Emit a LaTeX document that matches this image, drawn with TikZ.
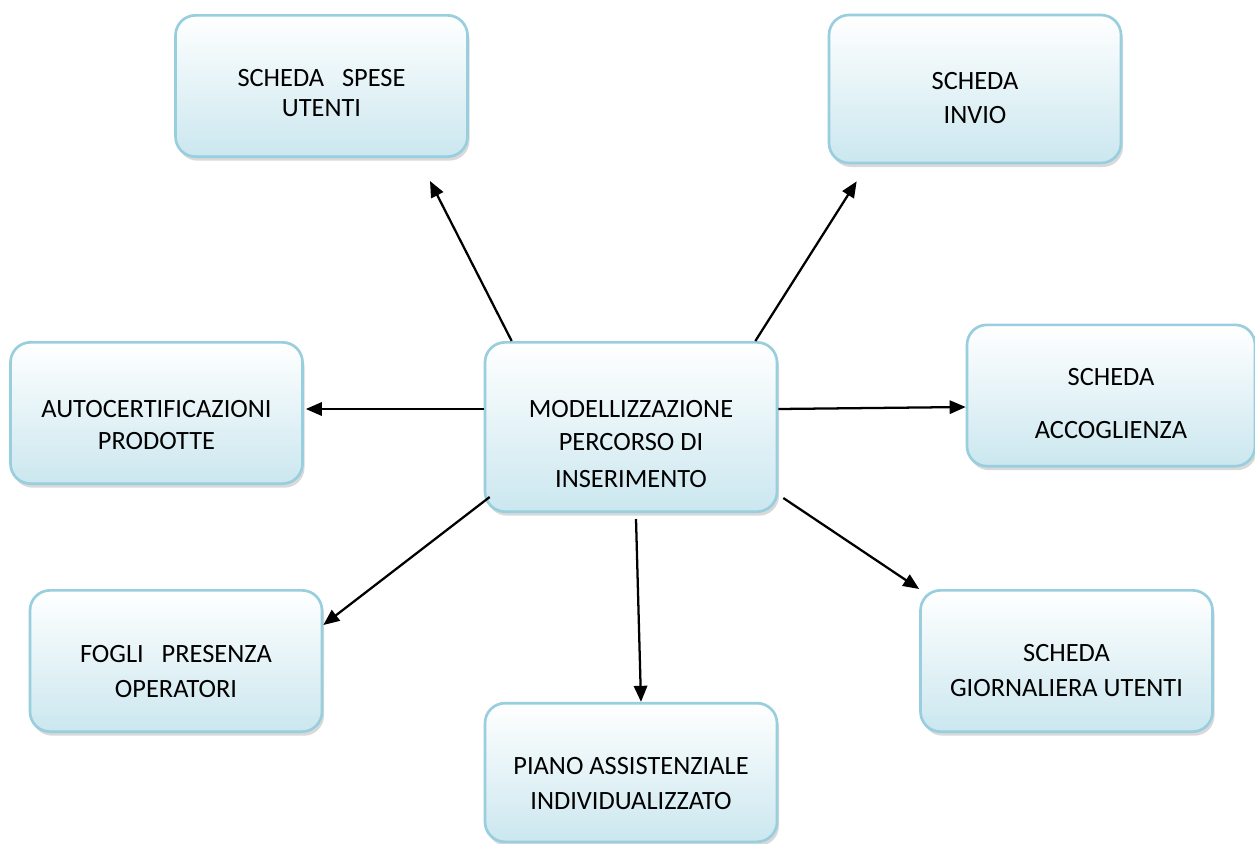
\documentclass[tikz,border=0pt]{standalone}
\usepackage{fontspec}
\setmainfont{Carlito}
\usetikzlibrary{arrows.meta,shadows,calc}

\definecolor{boxline}{RGB}{152,206,222}
\definecolor{boxfill}{RGB}{203,231,239}

% strut on the first line, pushes the text down in its box
\newcommand{\primariga}[1]{\rule{0pt}{#1}}

\tikzset{every picture/.style={line width=0.75pt}}
\tikzset{
  scheda/.style={rectangle, rounded corners=15pt, draw=boxline, line width=2pt,
    top color=white, bottom color=boxfill, align=center,
    minimum width=219pt, minimum height=106pt, inner sep=0pt,
    font=\fontsize{19.8}{26}\selectfont,
    drop shadow={shadow xshift=1.5pt, shadow yshift=-3pt, opacity=0.25, fill=black!60}},
  freccia/.style={line width=1.7pt, -{Triangle[length=12pt,width=10pt]}}
}

\begin{document}
\begin{tikzpicture}[x=0.75pt,y=0.75pt,yscale=-1,xscale=1]
	\useasboundingbox (0,0) rectangle (1255,843);

	% Boxes
	\node [scheda] (spese) at (321.5,86) {\primariga{23.25pt}SCHEDA\ \ \ SPESE\\[-3.5pt]UTENTI};
	\node [scheda, minimum height=111pt] (invio) at (975,89) {\primariga{26.25pt}SCHEDA\\INVIO};
	\node [scheda] (autocert) at (156.5,413) {\primariga{30.75pt}AUTOCERTIFICAZIONI\\[-2pt]PRODOTTE};
	\node [scheda, minimum height=127pt] (modello) at (631,427) {\primariga{38.25pt}MODELLIZZAZIONE\\[-1pt]PERCORSO DI\\[2pt]INSERIMENTO};
	\node [scheda, minimum width=216pt] (accoglienza) at (1111,395.5) {\primariga{24.75pt}SCHEDA\\[14pt]ACCOGLIENZA};
	\node [scheda] (fogli) at (176,661) {\primariga{28.5pt}FOGLI\ \ \ PRESENZA\\OPERATORI};
	\node [scheda, minimum height=104pt] (piano) at (631,772.5) {\primariga{29.25pt}PIANO ASSISTENZIALE\\INDIVIDUALIZZATO};
	\node [scheda] (giornaliera) at (1066.5,661) {\primariga{27pt}SCHEDA\\GIORNALIERA UTENTI};

	% Arrows
	\draw [freccia] ($(modello.north west)+(28,0)$) -- ($(spese.south)+(108.5,23)$);
	\draw [freccia] ($(modello.north east)+(-23,0)$) -- ($(invio.south west)+(29,17)$);
	\draw [freccia] ($(modello.west)+(0,-18)$) -- ($(autocert.east)+(2,-4)$);
	\draw [freccia] ($(modello.east)+(0,-18)$) -- ($(accoglienza.west)+(0,11.5)$);
	\draw [freccia] ($(modello.south west)+(6,-16)$) -- ($(fogli.east)+(0,-36)$);
	\draw [freccia] ($(modello.south)+(5,6)$) -- ($(piano.north)+(10,0)$);
	\draw [freccia] ($(modello.south east)+(5,-15)$) -- (giornaliera.north west);

\end{tikzpicture}
\end{document}
